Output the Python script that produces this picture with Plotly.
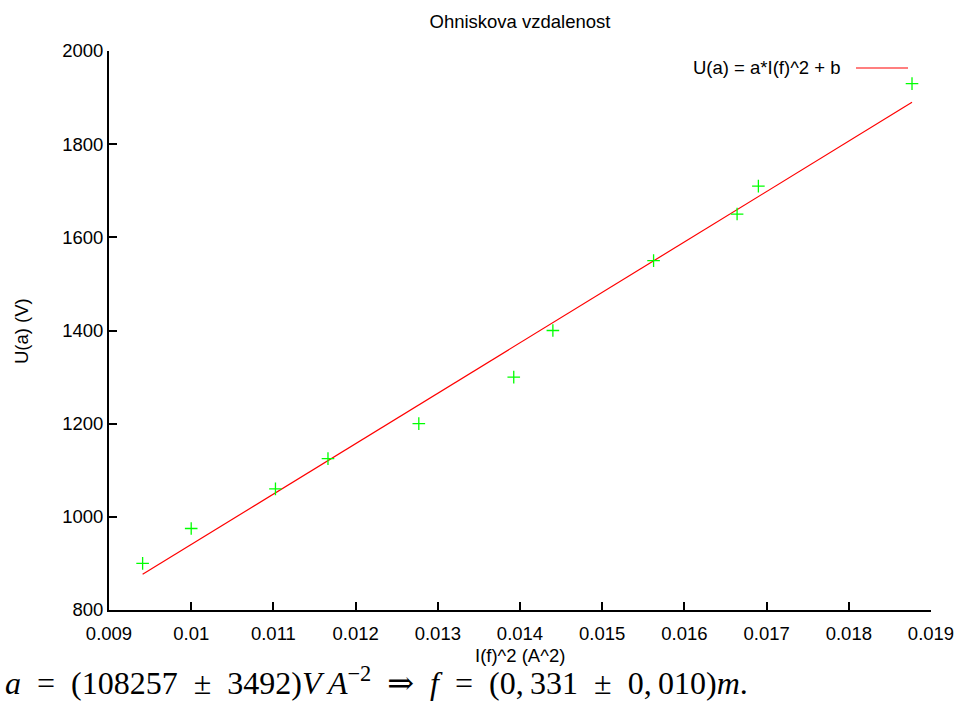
import plotly.graph_objects as go

# Data
i_sq = [0.009409, 0.01, 0.011025, 0.011664, 0.012769, 0.013924,
        0.0144, 0.015625, 0.016641, 0.0169, 0.018769]
u_a = [900, 975, 1060, 1125, 1200, 1300, 1400, 1550, 1650, 1710, 1930]

fit_a = 108257
fit_b = -142

x_ticks = [0.009, 0.01, 0.011, 0.012, 0.013, 0.014, 0.015, 0.016, 0.017, 0.018, 0.019]
x_tick_text = ["0.009", "0.01", "0.011", "0.012", "0.013", "0.014", "0.015",
               "0.016", "0.017", "0.018", "0.019"]
y_ticks = [800, 1000, 1200, 1400, 1600, 1800, 2000]

W, H = 957, 701
L, R, T, B = 109, 931, 51, 610


def px(xp):
    return (xp - L) / (R - L)


def py(yp):
    return (B - yp) / (B - T)


fit_x = [min(i_sq), max(i_sq)]
fit_y = [fit_a * v + fit_b for v in fit_x]

font = "Liberation Sans, Arial, sans-serif"
fs = 18.5

fig = go.Figure()
fig.add_trace(go.Scatter(
    x=fit_x, y=fit_y, mode="lines",
    line=dict(color="#ff0000", width=1.2),
    showlegend=False, hoverinfo="skip"))
fig.add_trace(go.Scatter(
    x=i_sq, y=u_a, mode="markers",
    marker=dict(symbol="cross-thin", size=9, line=dict(color="#00ff00", width=1.3)),
    showlegend=False))

axis_common = dict(
    showgrid=False, zeroline=False, showline=True, linecolor="black", linewidth=2,
    ticks="inside", ticklen=8, tickwidth=1.5, tickcolor="black", automargin=False,
    tickfont=dict(family=font, size=fs, color="black"), mirror=False,
)

fig.update_xaxes(range=[0.009, 0.019], tickvals=x_ticks, ticktext=x_tick_text,
                 ticklabelstandoff=6, **axis_common)
fig.update_yaxes(range=[800, 2000], tickvals=y_ticks, **axis_common)

fig.update_layout(
    width=W, height=H,
    margin=dict(l=L, r=W - R, t=T, b=H - B),
    plot_bgcolor="white", paper_bgcolor="white",
    title=dict(text="Ohniskova vzdalenost", x=520 / W, xref="container", xanchor="center",
               y=1 - 22 / H, yref="container", yanchor="middle",
               font=dict(family=font, size=fs, color="black")),
    showlegend=False,
)

# axis titles
fig.add_annotation(text="I(f)^2 (A^2)", xref="paper", yref="paper",
                   x=px(520), y=py(655), xanchor="center", yanchor="middle",
                   showarrow=False, font=dict(family=font, size=fs, color="black"))
fig.add_annotation(text="U(a) (V)", xref="paper", yref="paper",
                   x=px(21), y=py(331), xanchor="center", yanchor="middle", textangle=-90,
                   showarrow=False, font=dict(family=font, size=fs, color="black"))

# legend (gnuplot style: text then sample line)
fig.add_annotation(text="U(a) = a*I(f)^2 + b", xref="paper", yref="paper",
                   x=px(843), y=py(68), xanchor="right", yanchor="middle",
                   showarrow=False, font=dict(family=font, size=fs, color="black"))
fig.add_shape(type="line", xref="paper", yref="paper",
              x0=px(856), x1=px(908), y0=py(68), y1=py(68),
              line=dict(color="#ff0000", width=1.2))

# formula text below chart
sp = "\u2002"
formula = (f"<i>a</i>{sp}={sp}(108257{sp}±{sp}3492)<i>V\u2009A</i><sup>−2</sup>{sp}⇒{sp}"
           f"<i>f</i>{sp}={sp}(0,\u2009331{sp}±{sp}0,\u2009010)<i>m</i>.")
fig.add_annotation(
    text=formula,
    xref="paper", yref="paper", x=px(3), y=py(681), xanchor="left", yanchor="middle",
    showarrow=False, font=dict(family="Liberation Serif, DejaVu Serif, serif", size=32,
                               color="black"))

fig.write_html("out.html")
